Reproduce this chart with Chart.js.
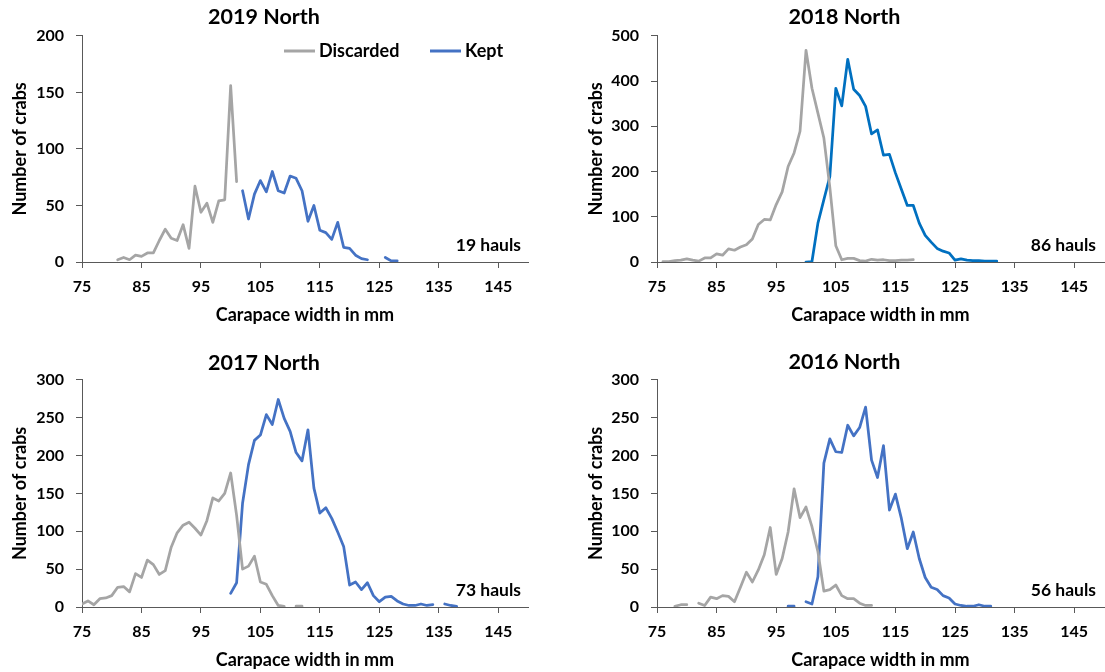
<!DOCTYPE html>
<html>
<head>
<meta charset="utf-8">
<script src="https://cdn.jsdelivr.net/npm/chart.js@4.4.0/dist/chart.umd.min.js"></script>
<style>
  body { margin: 0; background: #fff; width: 1105px; height: 672px; position: relative; overflow: hidden; }
  canvas { position: absolute; }
</style>
</head>
<body>
<canvas id="c2019" width="546" height="336" style="left:0px;top:0px"></canvas>
<canvas id="c2018" width="520" height="336" style="left:585px;top:0px"></canvas>
<canvas id="c2017" width="606" height="336" style="left:0px;top:336px"></canvas>
<canvas id="c2016" width="520" height="336" style="left:585px;top:336px"></canvas>
<script>
const N = null;

// carapace width (mm), one entry per data column
const widths = [
  75, 76, 77, 78, 79, 80, 81, 82, 83, 84,
  85, 86, 87, 88, 89, 90, 91, 92, 93, 94,
  95, 96, 97, 98, 99, 100, 101, 102, 103, 104,
  105, 106, 107, 108, 109, 110, 111, 112, 113, 114,
  115, 116, 117, 118, 119, 120, 121, 122, 123, 124,
  125, 126, 127, 128, 129, 130, 131, 132, 133, 134,
  135, 136, 137, 138
];
const xTicks = [75, 85, 95, 105, 115, 125, 135, 145];

// 2019 North
const discarded2019 = [
  N, N, N, N, N, N, 2, 4, 2, 6,
  5, 8, 8, 19, 29, 21, 19, 33, 12, 67,
  44, 52, 35, 54, 55, 156, 71, N, N, N,
  N, N, N, N, N, N, N, N, N, N,
  N, N, N, N, N, N, N, N, N, N,
  N, N, N, N, N, N, N, N, N, N,
  N, N, N, N
];
const kept2019 = [
  N, N, N, N, N, N, N, N, N, N,
  N, N, N, N, N, N, N, N, N, N,
  N, N, N, N, N, N, N, 63, 38, 60,
  72, 62, 80, 63, 61, 76, 74, 63, 36, 50,
  28, 26, 20, 35, 13, 12, 6, 3, 2, N,
  N, 4, 1, 1, N, N, N, N, N, N,
  N, N, N, N
];

// 2018 North
const discarded2018 = [
  N, 1, 1, 3, 4, 7, 4, 2, 9, 9,
  18, 15, 29, 26, 33, 38, 51, 83, 94, 93,
  127, 155, 211, 241, 289, 468, 384, 329, 274, 165,
  36, 5, 8, 8, 3, 2, 6, 4, 5, 3,
  3, 4, 4, 5, N, N, N, N, N, N,
  N, N, N, N, N, N, N, N, N, N,
  N, N, N, N
];
const kept2018 = [
  N, N, N, N, N, N, N, N, N, N,
  N, N, N, N, N, N, N, N, N, N,
  N, N, N, N, N, 0, 1, 86, 138, 189,
  384, 345, 448, 382, 368, 344, 283, 292, 236, 238,
  197, 161, 125, 125, 86, 59, 44, 30, 24, 20,
  4, 7, 4, 3, 3, 2, 2, 2, N, N,
  N, N, N, N
];

// 2017 North
const discarded2017 = [
  4, 8, 3, 11, 12, 15, 26, 27, 20, 44,
  39, 62, 56, 43, 48, 79, 98, 108, 112, 104,
  95, 114, 144, 140, 150, 177, 121, 50, 54, 67,
  33, 30, 15, 2, 1, N, 1, 1, N, N,
  N, N, N, N, N, N, N, N, N, N,
  N, N, N, N, N, N, N, N, N, N,
  N, N, N, N
];
const kept2017 = [
  N, N, N, N, N, N, N, N, N, N,
  N, N, N, N, N, N, N, N, N, N,
  N, N, N, N, N, 18, 32, 137, 188, 220,
  227, 254, 241, 274, 249, 232, 204, 193, 234, 157,
  124, 131, 117, 99, 80, 29, 33, 23, 32, 15,
  7, 13, 14, 8, 4, 2, 2, 4, 2, 3,
  N, 4, 2, 1
];

// 2016 North
const discarded2016 = [
  N, N, N, 1, 3, 3, N, 5, 2, 13,
  11, 15, 14, 7, 26, 46, 33, 49, 69, 105,
  43, 64, 99, 156, 118, 132, 106, 73, 21, 23,
  29, 15, 11, 11, 5, 2, 2, N, N, N,
  N, N, N, N, N, N, N, N, N, N,
  N, N, N, N, N, N, N, N, N, N,
  N, N, N, N
];
const kept2016 = [
  N, N, N, N, N, N, N, N, N, N,
  N, N, N, N, N, N, N, N, N, N,
  N, N, 1, 1, N, 7, 4, 40, 190, 222,
  205, 204, 240, 226, 237, 264, 194, 171, 213, 128,
  149, 117, 77, 99, 64, 39, 26, 23, 15, 12,
  4, 2, 1, 1, 3, 1, 1, N, N, N,
  N, N, N, N
];

const FONT = 'Lato';
const GREY = '#A5A5A5';
const AXIS = '#595959';

// hauls note + legend drawn inside the plot
const overlay = {
  id: 'overlay',
  afterDraw(chart, args, opts) {
    const ctx = chart.ctx;
    const a = chart.chartArea;
    ctx.save();
    ctx.fillStyle = '#000';
    ctx.textBaseline = 'middle';
    ctx.font = 'bold 17.5px ' + FONT;
    ctx.textAlign = 'right';
    ctx.fillText(opts.hauls, a.left + 439, a.bottom - 17);
    if (opts.legendX) {
      ctx.font = 'bold 18px ' + FONT;
      ctx.textAlign = 'left';
      chart.data.datasets.forEach((ds, i) => {
        const x0 = opts.legendX[i];
        ctx.strokeStyle = ds.borderColor;
        ctx.lineWidth = 3;
        ctx.beginPath();
        ctx.moveTo(x0, opts.legendY);
        ctx.lineTo(x0 + 31, opts.legendY);
        ctx.stroke();
        ctx.fillText(ds.label, x0 + 35, opts.legendY);
      });
    }
    ctx.restore();
  }
};

function makeChart(id, title, hauls, disc, kept, keptColor, yMax, yStep, g) {
  const tickFont = { family: FONT, size: 16, weight: 'bold' };
  const axisTitleFont = { family: FONT, size: 18, weight: 'bold' };
  new Chart(document.getElementById(id), {
    type: 'line',
    data: {
      labels: widths,
      datasets: [
        { label: 'Discarded', data: disc, borderColor: GREY, backgroundColor: GREY },
        { label: 'Kept', data: kept, borderColor: keptColor, backgroundColor: keptColor }
      ]
    },
    plugins: [overlay],
    options: {
      responsive: false,
      animation: false,
      spanGaps: false,
      elements: {
        point: { radius: 0 },
        line: { borderWidth: 2.75, tension: 0, borderCapStyle: 'round', borderJoinStyle: 'round' }
      },
      layout: { padding: { left: 0, top: 0, right: g.padRight, bottom: g.padBottom } },
      plugins: {
        legend: { display: false },
        tooltip: { enabled: false },
        title: {
          display: true, text: title, color: '#000',
          font: { family: FONT, size: 21.5, weight: 'bold' },
          padding: { top: g.titleTop, bottom: g.titleBottom }
        },
        overlay: { hauls: hauls, legendX: g.legendX, legendY: 51 }
      },
      scales: {
        x: {
          type: 'linear', min: 75, max: 150,
          afterBuildTicks(s) { s.ticks = xTicks.map(v => ({ value: v })); },
          afterFit(s) { s.height = 65; },
          ticks: { color: '#000', font: tickFont, padding: 9, maxRotation: 0, autoSkip: false },
          grid: { drawOnChartArea: false, drawTicks: true, tickLength: 6, color: AXIS },
          border: { color: AXIS, width: 1 },
          title: {
            display: true, text: 'Carapace width in mm', color: '#000',
            font: axisTitleFont, padding: { top: 0, bottom: 1 }
          }
        },
        y: {
          min: 0, max: yMax,
          afterFit(s) { s.width = g.left; },
          ticks: { stepSize: yStep, color: '#000', font: tickFont, padding: 12 },
          grid: { drawOnChartArea: false, drawTicks: true, tickLength: 6, color: AXIS },
          border: { color: AXIS, width: 1 },
          title: {
            display: true, text: 'Number of crabs', color: '#000',
            font: axisTitleFont, padding: { top: g.yTitlePad, bottom: 0 }
          }
        }
      }
    }
  });
}

makeChart('c2019', '2019 North', '19 hauls', discarded2019, kept2019, '#4472C4', 200, 50,
  { left: 82, padRight: 18, padBottom: 9, titleTop: 4, titleBottom: 6, yTitlePad: 9, legendX: [284, 430] });
makeChart('c2018', '2018 North', '86 hauls', discarded2018, kept2018, '#0070C0', 500, 100,
  { left: 72, padRight: 1, padBottom: 9, titleTop: 4, titleBottom: 6, yTitlePad: 0 });
makeChart('c2017', '2017 North', '73 hauls', discarded2017, kept2017, '#4472C4', 300, 50,
  { left: 82, padRight: 78, padBottom: 0, titleTop: 14, titleBottom: 4, yTitlePad: 9 });
makeChart('c2016', '2016 North', '56 hauls', discarded2016, kept2016, '#4472C4', 300, 50,
  { left: 72, padRight: 1, padBottom: 0, titleTop: 13, titleBottom: 5, yTitlePad: 0 });
</script>
</body>
</html>
